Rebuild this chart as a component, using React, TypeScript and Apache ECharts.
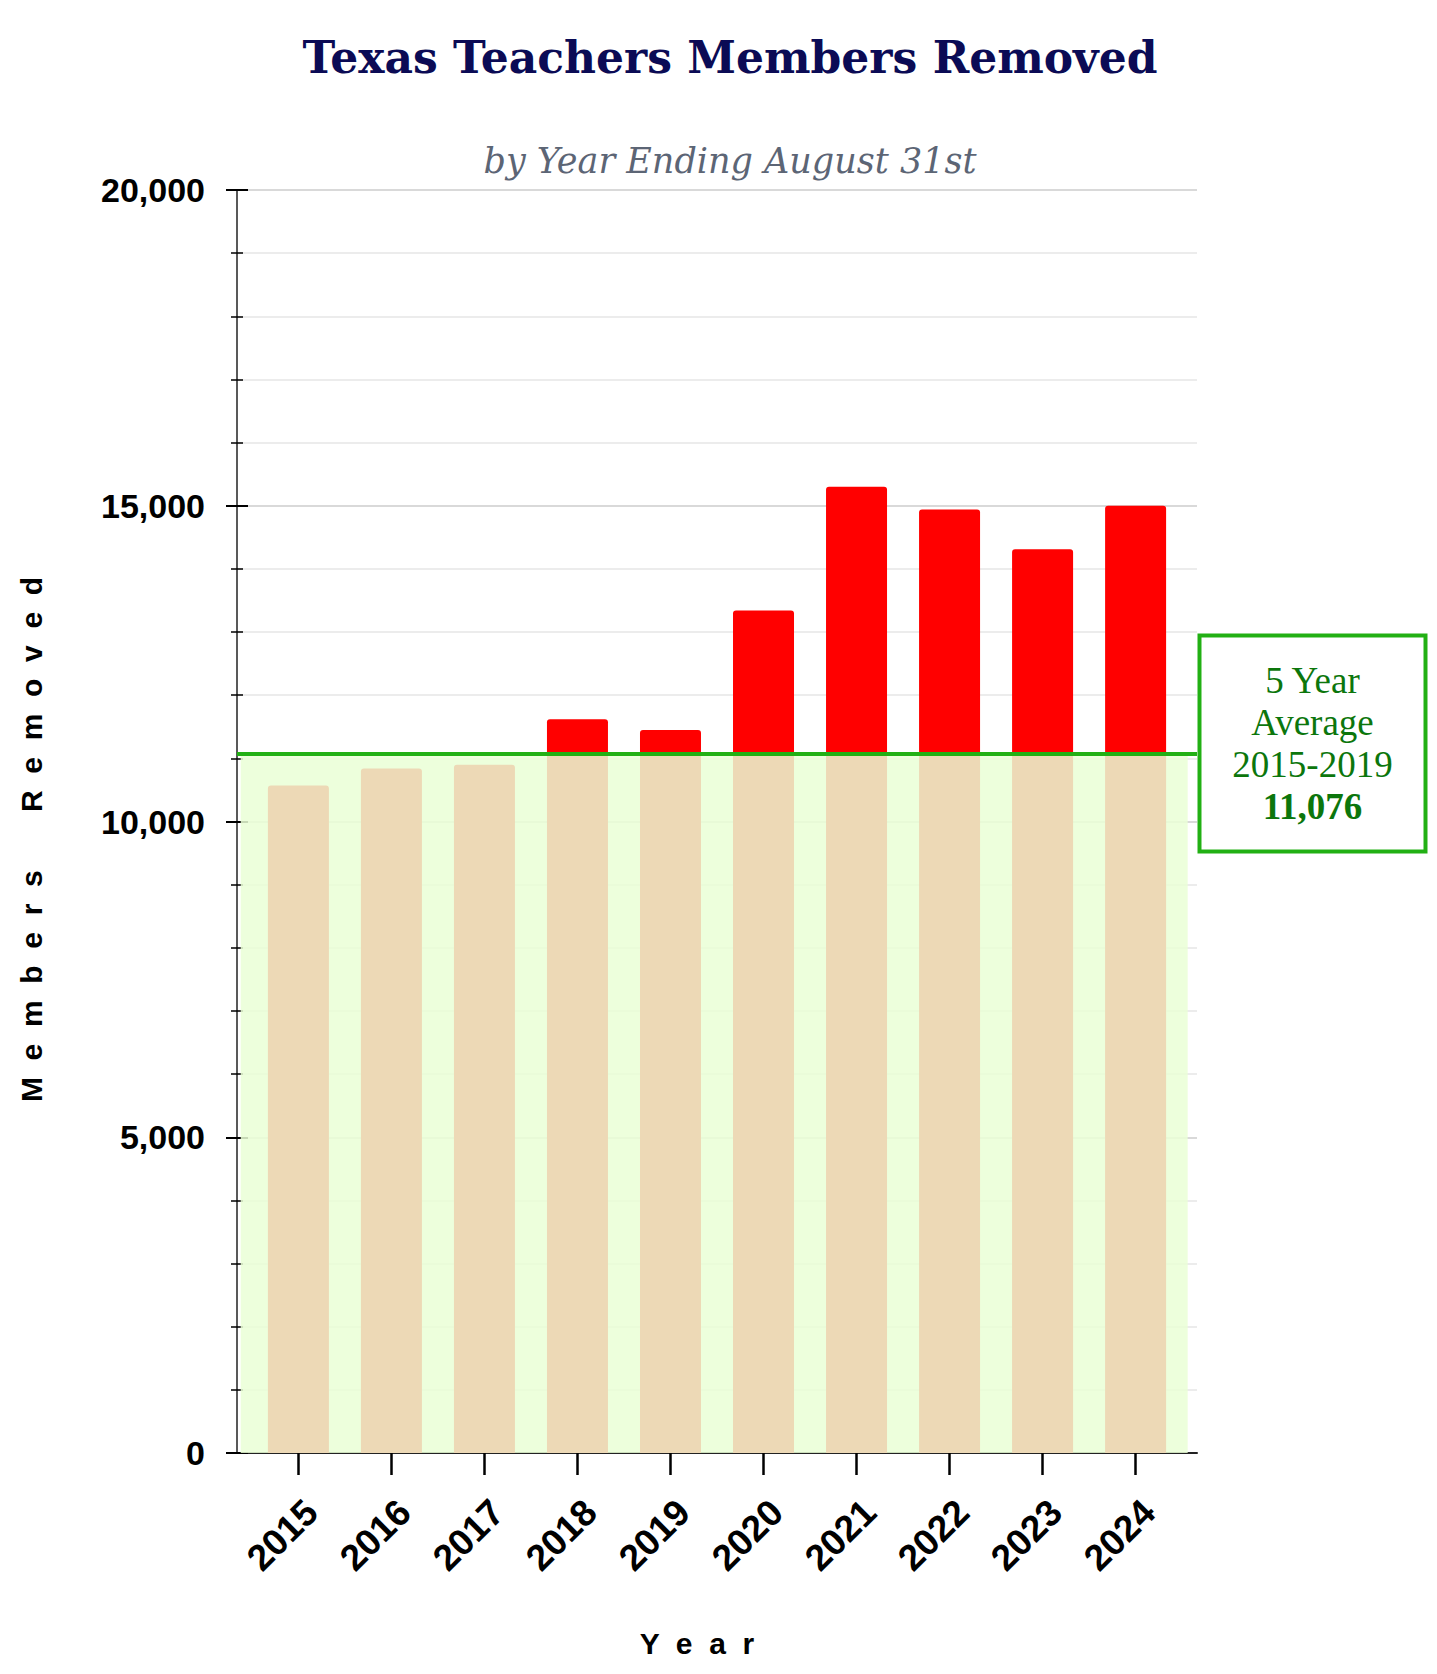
import React, { useEffect, useRef } from "react";
import * as echarts from "echarts";

const years = ["2015", "2016", "2017", "2018", "2019", "2020", "2021", "2022", "2023", "2024"];
const membersRemoved = [10570, 10840, 10900, 11620, 11450, 13340, 15300, 14940, 14310, 15000];
const fiveYearAverage = 11076;
const averageLines = ["5 Year", "Average", "2015-2019"];
const yMin = 0;
const yMax = 20000;
const yInterval = 5000;

const X_MIN = -0.66;
const X_MAX = 9.66;

export default function App() {
  const ref = useRef<HTMLDivElement>(null);

  useEffect(() => {
    if (!ref.current) return;
    const chart = echarts.init(ref.current, undefined, { renderer: "svg" });
    const idx = years.map((_, i) => i);
    const avgText = fiveYearAverage.toLocaleString("en-US");

    chart.setOption({
      animation: false,
      title: [
        {
          text: "Texas Teachers Members Removed",
          left: 722,
          textAlign: "center",
          top: 27,
          padding: 0,
          textStyle: {
            fontFamily: "DejaVu Serif",
            fontWeight: "bold",
            fontSize: 44,
            lineHeight: 44,
            color: "#0b0b55",
          },
        },
        {
          text: "by Year Ending August 31st",
          left: 722,
          textAlign: "center",
          top: 135,
          padding: 0,
          textStyle: {
            fontFamily: "DejaVu Serif",
            fontStyle: "italic",
            fontWeight: "normal",
            fontSize: 35,
            lineHeight: 35,
            color: "#5c6575",
          },
        },
      ],
      grid: { left: 223, top: 182, right: 232, bottom: 211, containLabel: false },
      xAxis: {
        type: "value",
        min: X_MIN,
        max: X_MAX,
        splitLine: { show: false },
        axisLine: { show: true, onZero: false, lineStyle: { color: "#222", width: 2 } },
        axisTick: {
          show: true,
          customValues: idx,
          length: 22,
          lineStyle: { color: "#000", width: 2.5 },
        },
        axisLabel: {
          customValues: idx,
          formatter: (v: number) => years[Math.round(v)] ?? "",
          rotate: 45,
          align: "right",
          verticalAlign: "top",
          margin: 40,
          fontFamily: "Liberation Sans",
          fontWeight: "bold",
          fontSize: 37,
          color: "#000",
        },
        name: "Y  e  a  r",
        nameLocation: "middle",
        nameGap: 175,
        nameTextStyle: {
          fontFamily: "Liberation Sans",
          fontWeight: "bold",
          fontSize: 30,
          color: "#000",
          padding: [0, 40, 0, 0],
        },
      },
      yAxis: [
        {
          type: "value",
          min: yMin,
          max: yMax,
          interval: yInterval,
          axisLine: { show: true, onZero: false, lineStyle: { color: "#222", width: 1.5 } },
          axisTick: { show: true, length: 11, lineStyle: { color: "#000", width: 2 } },
          minorTick: { show: true, splitNumber: 5, length: 6, lineStyle: { color: "#000", width: 1.5 } },
          splitLine: { show: true, lineStyle: { color: "#cccccc", width: 1.5 } },
          minorSplitLine: { show: true, lineStyle: { color: "#e6e6e6", width: 1.5 } },
          axisLabel: {
            margin: 32,
            formatter: (v: number) => v.toLocaleString("en-US"),
            fontFamily: "Liberation Sans",
            fontWeight: "bold",
            fontSize: 34,
            color: "#000",
          },
          name: "M  e  m  b  e  r  s       R  e  m  o  v  e  d",
          nameLocation: "middle",
          nameGap: 191,
          nameRotate: 90,
          nameTextStyle: {
            fontFamily: "Liberation Sans",
            fontWeight: "bold",
            fontSize: 30,
            color: "#000",
            padding: [0, 36, 0, 0],
          },
        },
        {
          type: "value",
          position: "left",
          min: yMin,
          max: yMax,
          interval: yInterval,
          axisLine: { show: false, onZero: false },
          axisTick: { show: true, inside: true, length: 11, lineStyle: { color: "#000", width: 2 } },
          minorTick: { show: true, splitNumber: 5, length: 6, lineStyle: { color: "#000", width: 1.5 } },
          splitLine: { show: false },
          minorSplitLine: { show: false },
          axisLabel: { show: false, inside: true },
        },
      ],
      series: [
        {
          type: "bar",
          yAxisIndex: 0,
          data: membersRemoved.map((v, i) => [i, v]),
          barWidth: 61,
          itemStyle: { color: "#ff0000", borderRadius: [3, 3, 0, 0] },
          markArea: {
            z: 3,
            silent: true,
            itemStyle: { color: "rgba(234, 255, 214, 0.85)" },
            data: [[{ coord: [-0.62, yMin] }, { coord: [9.56, fiveYearAverage] }]],
          },
          markLine: {
            silent: true,
            symbol: ["none", "none"],
            lineStyle: { color: "#22b014", width: 4, type: "solid" },
            label: { show: false },
            data: [{ yAxis: fiveYearAverage }],
          },
          markPoint: {
            silent: true,
            symbol: "rect",
            symbolSize: 1,
            itemStyle: { color: "rgba(0,0,0,0)" },
            label: {
              show: true,
              position: "right",
              distance: 4,
              offset: [0, -10],
              width: 204,
              padding: [22, 9, 22, 9],
              backgroundColor: "#ffffff",
              borderColor: "#22b014",
              borderWidth: 4,
              formatter: [...averageLines.map((t) => `{n|${t}}`), `{b|${avgText}}`].join("\n"),
              rich: {
                n: {
                  fontFamily: "Liberation Serif",
                  fontSize: 37,
                  lineHeight: 42,
                  color: "#0c760c",
                  align: "center",
                  width: 204,
                },
                b: {
                  fontFamily: "Liberation Serif",
                  fontSize: 37,
                  fontWeight: "bold",
                  lineHeight: 42,
                  color: "#0c760c",
                  align: "center",
                  width: 204,
                },
              },
            },
            data: [{ coord: [X_MAX, fiveYearAverage] }],
          },
        },
      ],
    });

    return () => chart.dispose();
  }, []);

  return <div ref={ref} style={{ width: "1421px", height: "1656px" }} />;
}
